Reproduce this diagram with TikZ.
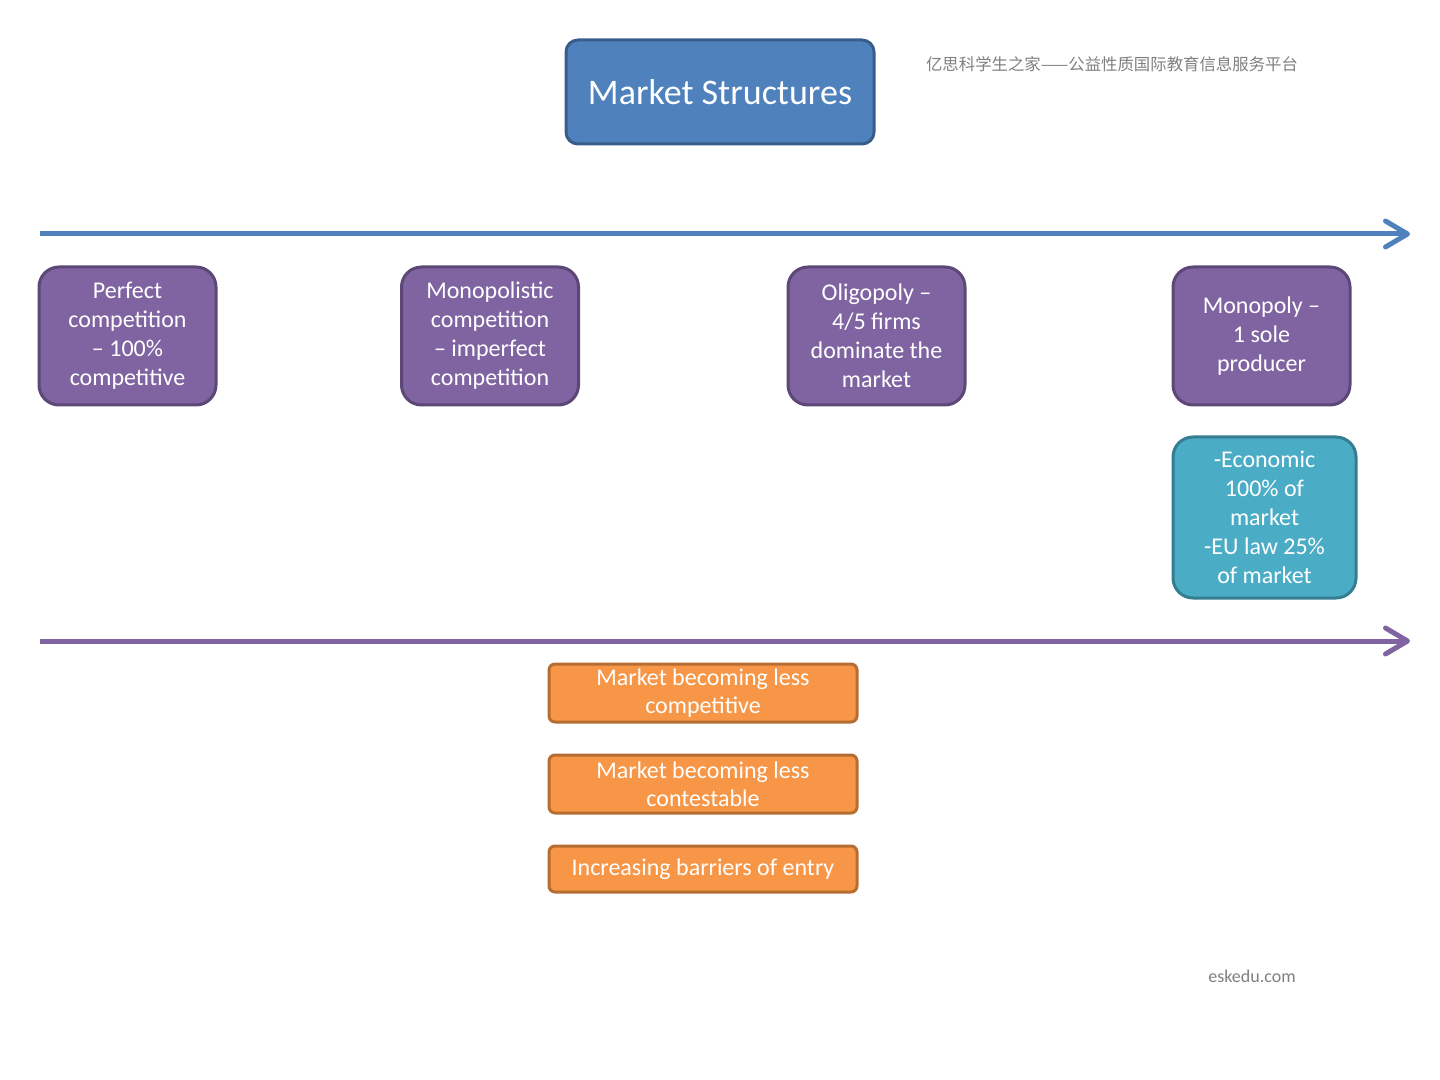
\documentclass[tikz,border=0pt]{standalone}
\usepackage{fontspec}
\setmainfont{Carlito}
\newfontfamily\cjkfont{Noto Sans CJK SC}
\usepackage{tikz}
\usetikzlibrary{arrows.meta,positioning}

\definecolor{tblue}{HTML}{4F81BD}
\definecolor{tblueD}{HTML}{385D8A}
\definecolor{mpurple}{HTML}{8064A2}
\definecolor{mpurpleD}{HTML}{5C4776}
\definecolor{mteal}{HTML}{4BACC6}
\definecolor{mtealD}{HTML}{357D91}
\definecolor{morange}{HTML}{F79646}
\definecolor{morangeD}{HTML}{B66D31}
\definecolor{wmgray}{HTML}{7F7F7F}

\tikzset{
    box/.style={draw, line width=1.5pt, text=white, align=center,
        font=\fontsize{12}{14.5}\selectfont, inner sep=0pt},
    titlebox/.style={box, fill=tblue, draw=tblueD, rounded corners=6pt,
        minimum width=154pt, minimum height=52pt, font=\fontsize{18}{22}\selectfont},
    purplebox/.style={box, fill=mpurple, draw=mpurpleD, rounded corners=10pt,
        minimum width=88.5pt, minimum height=69pt},
    tealbox/.style={box, fill=mteal, draw=mtealD, rounded corners=10pt,
        minimum width=91.5pt, minimum height=80.5pt},
    orangebox/.style={box, fill=morange, draw=morangeD, rounded corners=3pt,
        minimum width=154pt, font=\fontsize{12}{14}\selectfont},
    scalearrow/.style={line width=2.5pt, -{Straight Barb[length=11pt,width=13pt,round]}}
}

\begin{document}
\begin{tikzpicture}[x=0.5pt,y=-0.5pt]
    \useasboundingbox (0,0) rectangle (1440,1080);

    \node[titlebox] (MS) at (720,92) {Market Structures};
    \node[text=wmgray, font=\cjkfont\fontsize{8.2}{10}\selectfont] (W1) at (1112,64)
        {亿思科学生之家——公益性质国际教育信息服务平台};

    % competition scale
    \coordinate (A1) at (40,234);
    \coordinate (A2) at (1410,234);
    \draw[scalearrow, tblue] (A1) -- (A2);

    \node[purplebox] (PC) at (127.5,336) {Perfect\\competition\\– 100\%\\competitive};
    \node[purplebox] (MC) at (490,336) {Monopolistic\\competition\\– imperfect\\competition};
    \node[purplebox] (OL) at (876.5,336) {Oligopoly –\\4/5 firms\\dominate the\\market};
    \node[purplebox] (MO) at (1261.5,336) {Monopoly –\\1 sole\\producer};
    \node[tealbox] (EU) at (1264.5,517.5) {-Economic\\100\% of\\market\\-EU law 25\%\\of market};

    % second scale
    \coordinate (B1) at (40,641);
    \coordinate (B2) at (1410,641);
    \draw[scalearrow, mpurple] (B1) -- (B2);

    \node[orangebox, minimum height=29pt] (L1) at (703,693) {Market becoming less\\competitive};
    \node[orangebox, minimum height=29pt] (L2) at (703,784) {Market becoming less\\contestable};
    \node[orangebox, minimum height=23pt] (L3) at (703,869) {Increasing barriers of entry};

    \node[text=wmgray, font=\fontsize{9}{11}\selectfont] (W2) at (1252,976) {eskedu.com};
\end{tikzpicture}
\end{document}
